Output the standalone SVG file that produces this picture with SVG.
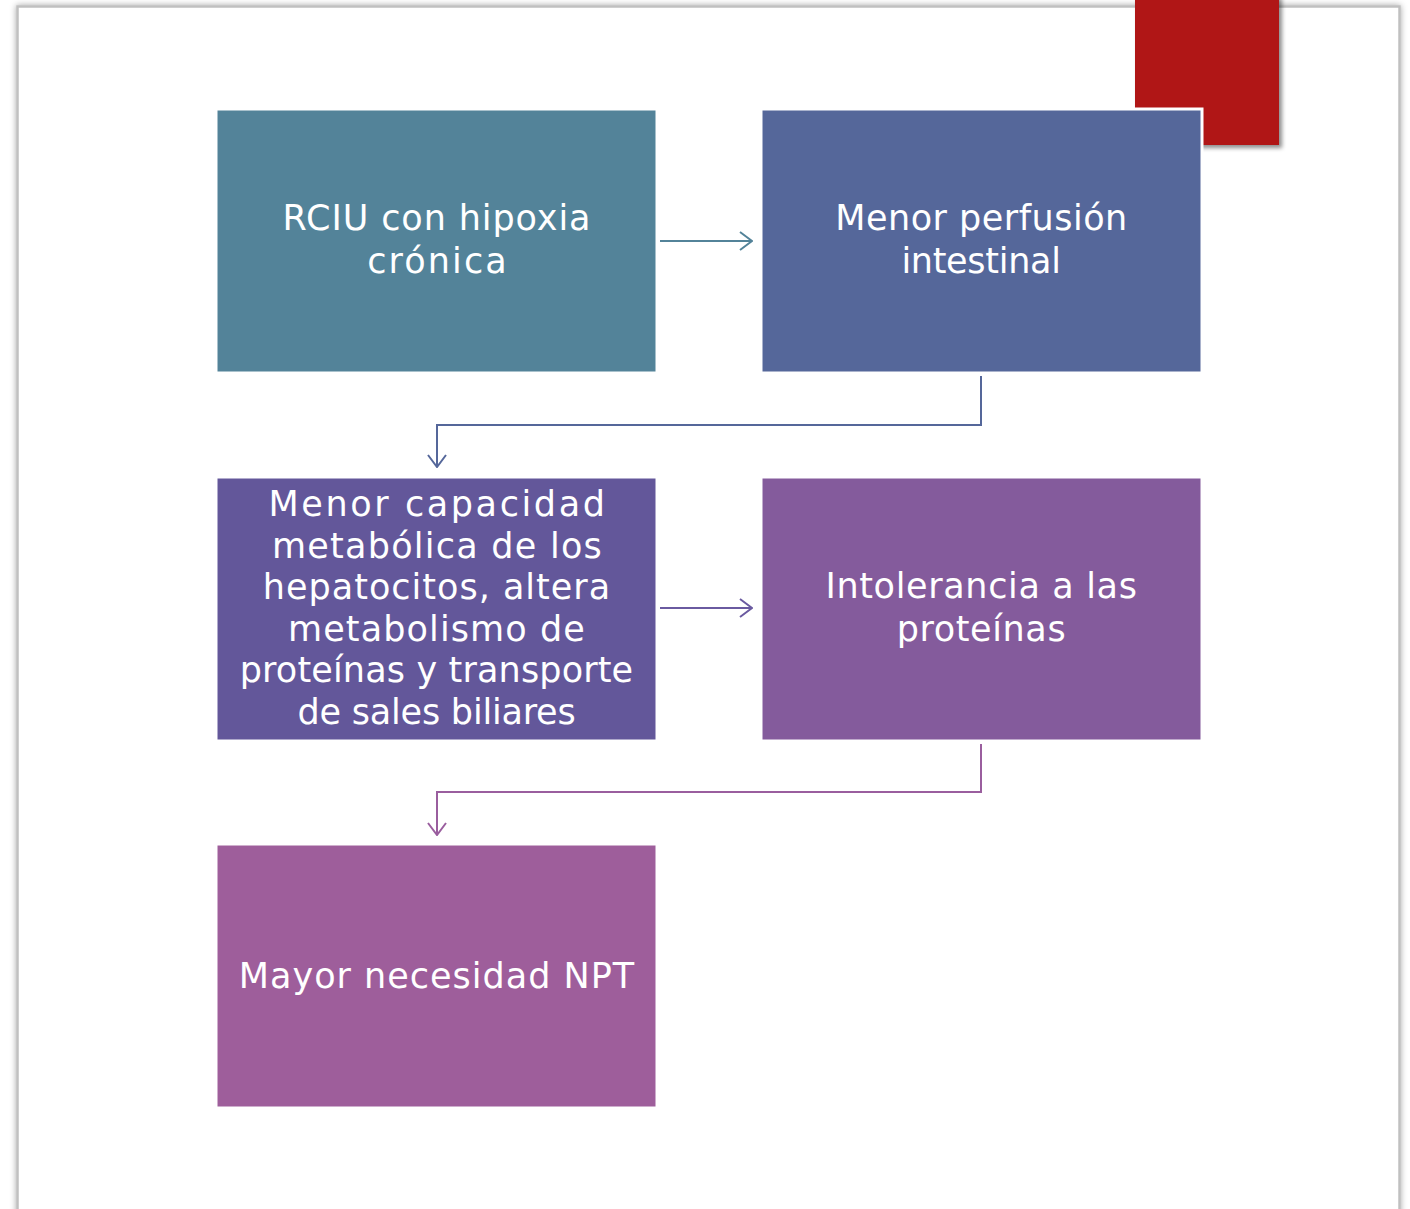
<svg xmlns="http://www.w3.org/2000/svg" width="1410" height="1209" viewBox="0 0 1410 1209">
  <defs>
    <filter id="pageShadow" x="-5%" y="-5%" width="110%" height="110%">
      <feGaussianBlur in="SourceAlpha" stdDeviation="3"/>
      <feOffset dx="0" dy="0" result="b"/>
      <feFlood flood-color="#000" flood-opacity="0.35"/>
      <feComposite in2="b" operator="in"/>
      <feMerge><feMergeNode/><feMergeNode in="SourceGraphic"/></feMerge>
    </filter>
    <filter id="redShadow" x="-10%" y="-10%" width="130%" height="130%">
      <feGaussianBlur in="SourceAlpha" stdDeviation="2"/>
      <feOffset dx="3" dy="3" result="b"/>
      <feFlood flood-color="#000" flood-opacity="0.45"/>
      <feComposite in2="b" operator="in"/>
      <feMerge><feMergeNode/><feMergeNode in="SourceGraphic"/></feMerge>
    </filter>
    <marker id="arrTeal" viewBox="0 0 14 20" refX="13" refY="10" markerWidth="14" markerHeight="20" markerUnits="userSpaceOnUse" orient="auto">
      <path d="M1,1 L13,10 L1,19" fill="none" stroke="#538399" stroke-width="2"/>
    </marker>
    <marker id="arrBlue" viewBox="0 0 14 20" refX="13" refY="10" markerWidth="14" markerHeight="20" markerUnits="userSpaceOnUse" orient="auto">
      <path d="M1,1 L13,10 L1,19" fill="none" stroke="#55679A" stroke-width="2"/>
    </marker>
    <marker id="arrIndigo" viewBox="0 0 14 20" refX="13" refY="10" markerWidth="14" markerHeight="20" markerUnits="userSpaceOnUse" orient="auto">
      <path d="M1,1 L13,10 L1,19" fill="none" stroke="#6A5AA0" stroke-width="2"/>
    </marker>
    <marker id="arrPurple" viewBox="0 0 14 20" refX="13" refY="10" markerWidth="14" markerHeight="20" markerUnits="userSpaceOnUse" orient="auto">
      <path d="M1,1 L13,10 L1,19" fill="none" stroke="#9A5E9E" stroke-width="2"/>
    </marker>
  </defs>
  <style>
    .box { stroke: #ffffff; stroke-width: 3; }
    .lbl { font-family: "DejaVu Sans", "Noto Sans", sans-serif; font-size: 35px; fill: #ffffff; text-anchor: middle; }
    .conn { fill: none; stroke-width: 2; }
  </style>

  <rect x="0" y="0" width="1410" height="1209" fill="#ffffff"/>
  <g id="page">
    <rect x="17.5" y="6.5" width="1382" height="1230" fill="#ffffff" stroke="#c0c0c0" stroke-width="2.5" filter="url(#pageShadow)"/>
  </g>
  <g id="accent">
    <rect x="1135" y="-5" width="144" height="150" fill="#B01513" filter="url(#redShadow)"/>
  </g>

  <g id="connectors">
    <line class="conn" x1="660" y1="241" x2="752" y2="241" stroke="#538399" marker-end="url(#arrTeal)"/>
    <polyline class="conn" points="981,376 981,425 437,425 437,467" stroke="#55679A" marker-end="url(#arrBlue)"/>
    <line class="conn" x1="660" y1="608" x2="752" y2="608" stroke="#6A5AA0" marker-end="url(#arrIndigo)"/>
    <polyline class="conn" points="981,744 981,792 437,792 437,835" stroke="#9A5E9E" marker-end="url(#arrPurple)"/>
  </g>

  <g id="node1">
    <rect class="box" x="216" y="109" width="441" height="264" fill="#538399"/>
    <text class="lbl" x="437" y="230" letter-spacing="0.9">RCIU con hipoxia</text>
    <text class="lbl" x="438" y="273" letter-spacing="2.1">crónica</text>
  </g>
  <g id="node2">
    <rect class="box" x="761" y="109" width="441" height="264" fill="#55679A"/>
    <text class="lbl" x="981.5" y="230" letter-spacing="0.5">Menor perfusión</text>
    <text class="lbl" x="981" y="273" letter-spacing="-0.3">intestinal</text>
  </g>
  <g id="node3">
    <rect class="box" x="216" y="477" width="441" height="264" fill="#63579A"/>
    <text class="lbl" x="438" y="516" letter-spacing="2.6">Menor capacidad</text>
    <text class="lbl" x="437.5" y="557.5" letter-spacing="1.25">metabólica de los</text>
    <text class="lbl" x="437" y="599" letter-spacing="1.0">hepatocitos, altera</text>
    <text class="lbl" x="437" y="640.5" letter-spacing="1.1">metabolismo de</text>
    <text class="lbl" x="436.5" y="682" letter-spacing="0.15">proteínas y transporte</text>
    <text class="lbl" x="436.5" y="723.5" letter-spacing="-0.2">de sales biliares</text>
  </g>
  <g id="node4">
    <rect class="box" x="761" y="477" width="441" height="264" fill="#845B9C"/>
    <text class="lbl" x="981.5" y="598" letter-spacing="0.65">Intolerancia a las</text>
    <text class="lbl" x="981.5" y="641" letter-spacing="0.6">proteínas</text>
  </g>
  <g id="node5">
    <rect class="box" x="216" y="844" width="441" height="264" fill="#9E5E9B"/>
    <text class="lbl" x="437" y="988" letter-spacing="1.0">Mayor necesidad NPT</text>
  </g>
</svg>
